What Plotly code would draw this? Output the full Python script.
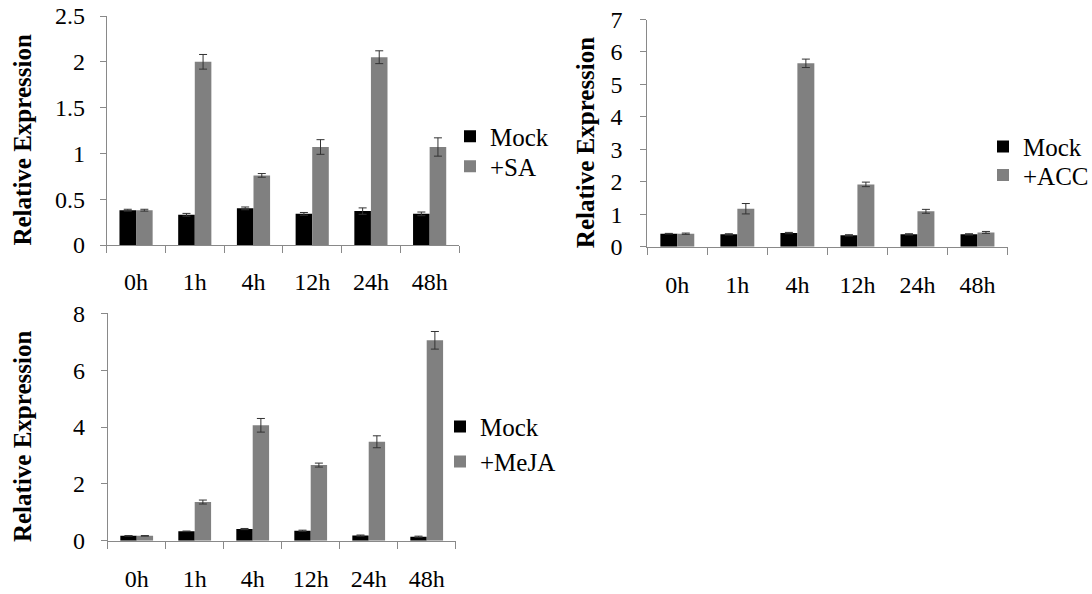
import plotly.graph_objects as go

categories = ["0h", "1h", "4h", "12h", "24h", "48h"]

sa_mock = [0.38, 0.33, 0.40, 0.34, 0.37, 0.34]
sa_mock_err = [0.01, 0.015, 0.015, 0.015, 0.035, 0.02]
sa_treat = [0.38, 2.00, 0.76, 1.07, 2.05, 1.07]
sa_treat_err = [0.01, 0.08, 0.02, 0.08, 0.07, 0.10]

acc_mock = [0.40, 0.38, 0.42, 0.35, 0.38, 0.38]
acc_mock_err = [0.01, 0.02, 0.02, 0.02, 0.02, 0.02]
acc_treat = [0.40, 1.17, 5.65, 1.92, 1.09, 0.44]
acc_treat_err = [0.02, 0.16, 0.13, 0.07, 0.06, 0.03]

meja_mock = [0.17, 0.33, 0.41, 0.35, 0.18, 0.14]
meja_mock_err = [0.01, 0.01, 0.02, 0.02, 0.02, 0.02]
meja_treat = [0.17, 1.36, 4.06, 2.66, 3.48, 7.05]
meja_treat_err = [0.01, 0.07, 0.24, 0.07, 0.21, 0.31]

W, H = 1092, 594
FONT = "Liberation Serif, Times New Roman, serif"
AXIS_COLOR = "#898989"
MOCK_COLOR = "#000000"
TREAT_COLOR = "#808080"
ERR_COLOR = "#333333"

panels = [
    dict(mock=sa_mock, mock_err=sa_mock_err, treat=sa_treat, treat_err=sa_treat_err,
         name="+SA", xd=(106.7, 459), yd=(16, 245), yr=[0, 2.5], dt=0.5,
         legx=450, legy=(136.5, 166.5), ystand=10, xstand=15, tstand=16),
    dict(mock=acc_mock, mock_err=acc_mock_err, treat=acc_treat, treat_err=acc_treat_err,
         name="+ACC", xd=(647.3, 1007.5), yd=(19.5, 246.7), yr=[0, 7], dt=1,
         legx=983, legy=(146.8, 175.2), ystand=13, xstand=16, tstand=8),
    dict(mock=meja_mock, mock_err=meja_mock_err, treat=meja_treat, treat_err=meja_treat_err,
         name="+MeJA", xd=(107.7, 455.7), yd=(313.3, 540.7), yr=[0, 8], dt=2,
         legx=440, legy=(426.8, 461.8), ystand=11, xstand=16, tstand=34),
]

fig = go.Figure()
layout = dict(
    template="none",
    width=W, height=H,
    margin=dict(l=0, r=0, t=0, b=0, pad=0, autoexpand=False),
    plot_bgcolor="white", paper_bgcolor="white",
    font=dict(family=FONT, size=24, color="black"),
    barmode="group", bargap=0.435, bargroupgap=0,
    showlegend=True,
)

for i, p in enumerate(panels):
    idx = "" if i == 0 else str(i + 1)
    xa, ya = "x" + idx, "y" + idx
    leg_m = "legend" if i == 0 else "legend" + str(2 * i + 1)
    leg_t = "legend" + str(2 * i + 2)
    fig.add_trace(go.Bar(
        x=categories, y=p["mock"], name="Mock",
        marker=dict(color=MOCK_COLOR, line=dict(width=0)),
        error_y=dict(type="data", array=p["mock_err"], visible=True,
                     color=ERR_COLOR, thickness=1, width=4),
        xaxis=xa, yaxis=ya, legend=leg_m,
    ))
    fig.add_trace(go.Bar(
        x=categories, y=p["treat"], name=p["name"],
        marker=dict(color=TREAT_COLOR, line=dict(width=0)),
        error_y=dict(type="data", array=p["treat_err"], visible=True,
                     color=ERR_COLOR, thickness=1, width=4),
        xaxis=xa, yaxis=ya, legend=leg_t,
    ))
    xd, yd = p["xd"], p["yd"]
    layout["xaxis" + idx] = dict(
        domain=[xd[0] / W, xd[1] / W], anchor=ya, automargin=False,
        type="category", range=[-0.5, 5.5],
        showline=True, linecolor=AXIS_COLOR, linewidth=1,
        ticks="outside", tickson="boundaries", ticklen=7, tickcolor=AXIS_COLOR,
        ticklabelstandoff=p["xstand"],
        showgrid=False, zeroline=False,
        tickfont=dict(family=FONT, size=24, color="black"),
    )
    layout["yaxis" + idx] = dict(
        domain=[(H - yd[1]) / H, (H - yd[0]) / H], anchor=xa, automargin=False,
        range=p["yr"], dtick=p["dt"], tick0=0,
        showline=True, linecolor=AXIS_COLOR, linewidth=1,
        ticks="outside", ticklen=6, tickcolor=AXIS_COLOR,
        ticklabelstandoff=p["ystand"],
        showgrid=False, zeroline=False,
        tickfont=dict(family=FONT, size=24, color="black"),
        title=dict(text="<b>Relative Expression</b>&nbsp;&nbsp;&nbsp;", standoff=p["tstand"],
                   font=dict(family=FONT, size=25, color="black")),
    )
    for lid, ly in ((leg_m, p["legy"][0]), (leg_t, p["legy"][1])):
        layout[lid] = dict(
            x=p["legx"] / W, y=(H - ly) / H, xanchor="left", yanchor="middle",
            bgcolor="rgba(0,0,0,0)", borderwidth=0,
            font=dict(family=FONT, size=25, color="black"),
            itemwidth=30, tracegroupgap=0,
        )

fig.update_layout(**layout)

page_fix = "document.body.style.margin='0';document.documentElement.style.overflow='hidden';"

fig.write_html("out.html", config={"displayModeBar": False}, post_script=page_fix)
